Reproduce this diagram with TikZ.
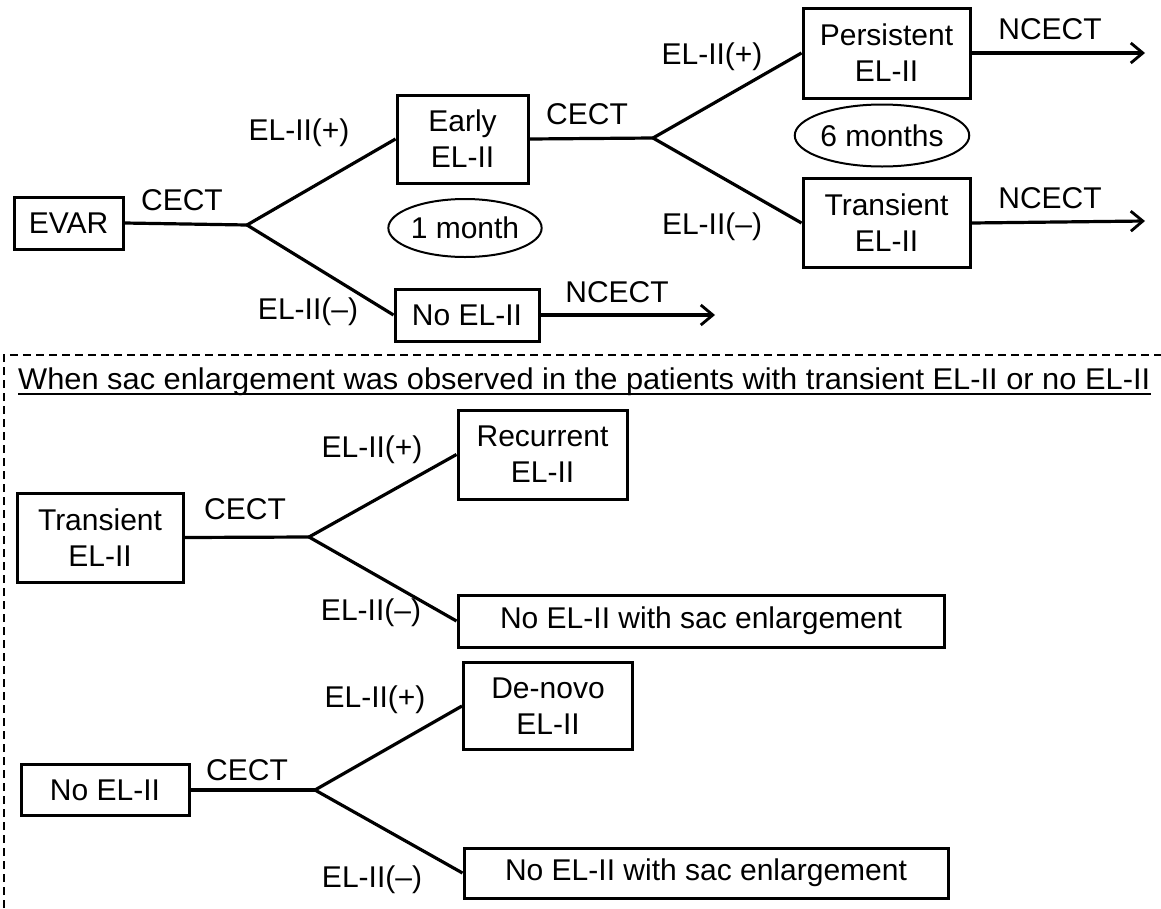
\documentclass[tikz,border=0pt]{standalone}
\usepackage{fontspec}
\usepackage{graphicx}
\setmainfont{Liberation Sans}
\usetikzlibrary{arrows.meta,shapes.geometric}

\tikzset{
  txt/.style={font=\fontsize{30}{36}\selectfont, inner sep=0pt},
  box/.style={txt, draw, line width=3pt, rectangle, align=center},
  oval/.style={txt, draw, line width=2pt, ellipse, inner sep=0pt},
  lbl/.style={txt},
  link/.style={line width=3.2pt},
  go/.style={line width=3.2pt, -{Straight Barb[length=12pt,width=20pt,line width=2.8pt]}},
  frame/.style={line width=2.2pt, dash pattern=on 8pt off 5pt}
}

\begin{document}
\begin{tikzpicture}[x=1pt, y=-1pt]
\useasboundingbox (0,0) rectangle (1161,908);

% ---------- first follow-up chain ----------
\node[box, minimum width=109pt, minimum height=52pt] (evar) at (68.5,223) {EVAR};
\coordinate (b1) at (247,225);
\node[box, minimum width=131pt, minimum height=88pt] (early) at (462.5,139) {Early\\EL-II};
\node[box, minimum width=144pt, minimum height=52pt] (noel) at (467,315) {No EL-II};
\node[oval, minimum width=146pt, minimum height=58pt] (m1) at (465,228) {1 month};

\node[lbl] (c1) at (182,200) {CECT};
\node[lbl] (p1) at (299,133) {EL-II(+)};
\node[lbl] (n1) at (308,312) {EL-II(–)};

\draw[link] (evar.east) -- (b1);
\draw[link] (b1) -- (early.west);
\draw[link] (b1) -- (noel.west);

\coordinate (a3) at (715,315);
\node[lbl] (nc3) at (617,292) {NCECT};
\draw[go] (noel.east) -- (a3);

\coordinate (b2) at (653,138);
\node[lbl] (c2) at (587,114) {CECT};
\draw[link] (early.east) -- (b2);

\node[box, minimum width=167pt, minimum height=90pt] (pers) at (886.5,53) {Persistent\\EL-II};
\node[box, minimum width=167pt, minimum height=89pt] (tran) at (886.5,223) {Transient\\EL-II};
\node[oval, minimum width=150pt, minimum height=62pt] (m6) at (882,135.5) {6 months};

\node[lbl] (p2) at (712,57) {EL-II(+)};
\node[lbl] (n2) at (712,227) {EL-II(–)};
\draw[link] (b2) -- (pers.west);
\draw[link] (b2) -- (tran.west);

\coordinate (a1) at (1145,53);
\coordinate (a2) at (1145,221);
\node[lbl] (nc1) at (1050,29) {NCECT};
\node[lbl] (nc2) at (1050,198) {NCECT};
\draw[go] (pers.east) -- (a1);
\draw[go] (tran.east) -- (a2);

% ---------- sac enlargement panel ----------
\draw[frame] (4,908) -- (4,355) -- (1161,355);
\node[txt, anchor=base west] (hdr) at (18,389)
  {\resizebox{1132pt}{\height}{When sac enlargement was observed in the patients with transient EL-II or no EL-II}};
\draw[line width=2pt] ([yshift=-5pt]hdr.base west) -- ([yshift=-5pt]hdr.base east);

% transient EL-II branch
\node[box, minimum width=166pt, minimum height=89pt] (tr2) at (100,537.5) {Transient\\EL-II};
\coordinate (b3) at (309,537);
\node[box, minimum width=169pt, minimum height=89pt] (rec) at (542.5,454.5) {Recurrent\\EL-II};
\node[box, minimum width=486pt, minimum height=52pt] (sac1) at (701,621) {No EL-II with sac enlargement};
\node[lbl] (c3) at (245,509) {CECT};
\node[lbl] (p3) at (372,450) {EL-II(+)};
\node[lbl] (n3) at (371,613) {EL-II(–)};
\draw[link] (tr2.east) -- (b3);
\draw[link] (b3) -- (rec.west);
\draw[link] (b3) -- (sac1.west);

% no EL-II branch
\node[box, minimum width=168pt, minimum height=51pt] (ne2) at (105,790) {No EL-II};
\coordinate (b4) at (315,790);
\node[box, minimum width=169pt, minimum height=87pt] (dn) at (548,706) {De-novo\\EL-II};
\node[box, minimum width=484pt, minimum height=50pt] (sac2) at (706,873) {No EL-II with sac enlargement};
\node[lbl] (c4) at (247,770) {CECT};
\node[lbl] (p4) at (375,700) {EL-II(+)};
\node[lbl] (n4) at (372,880) {EL-II(–)};
\draw[link] (ne2.east) -- (b4);
\draw[link] (b4) -- (dn.west);
\draw[link] (b4) -- (sac2.west);
\end{tikzpicture}
\end{document}
